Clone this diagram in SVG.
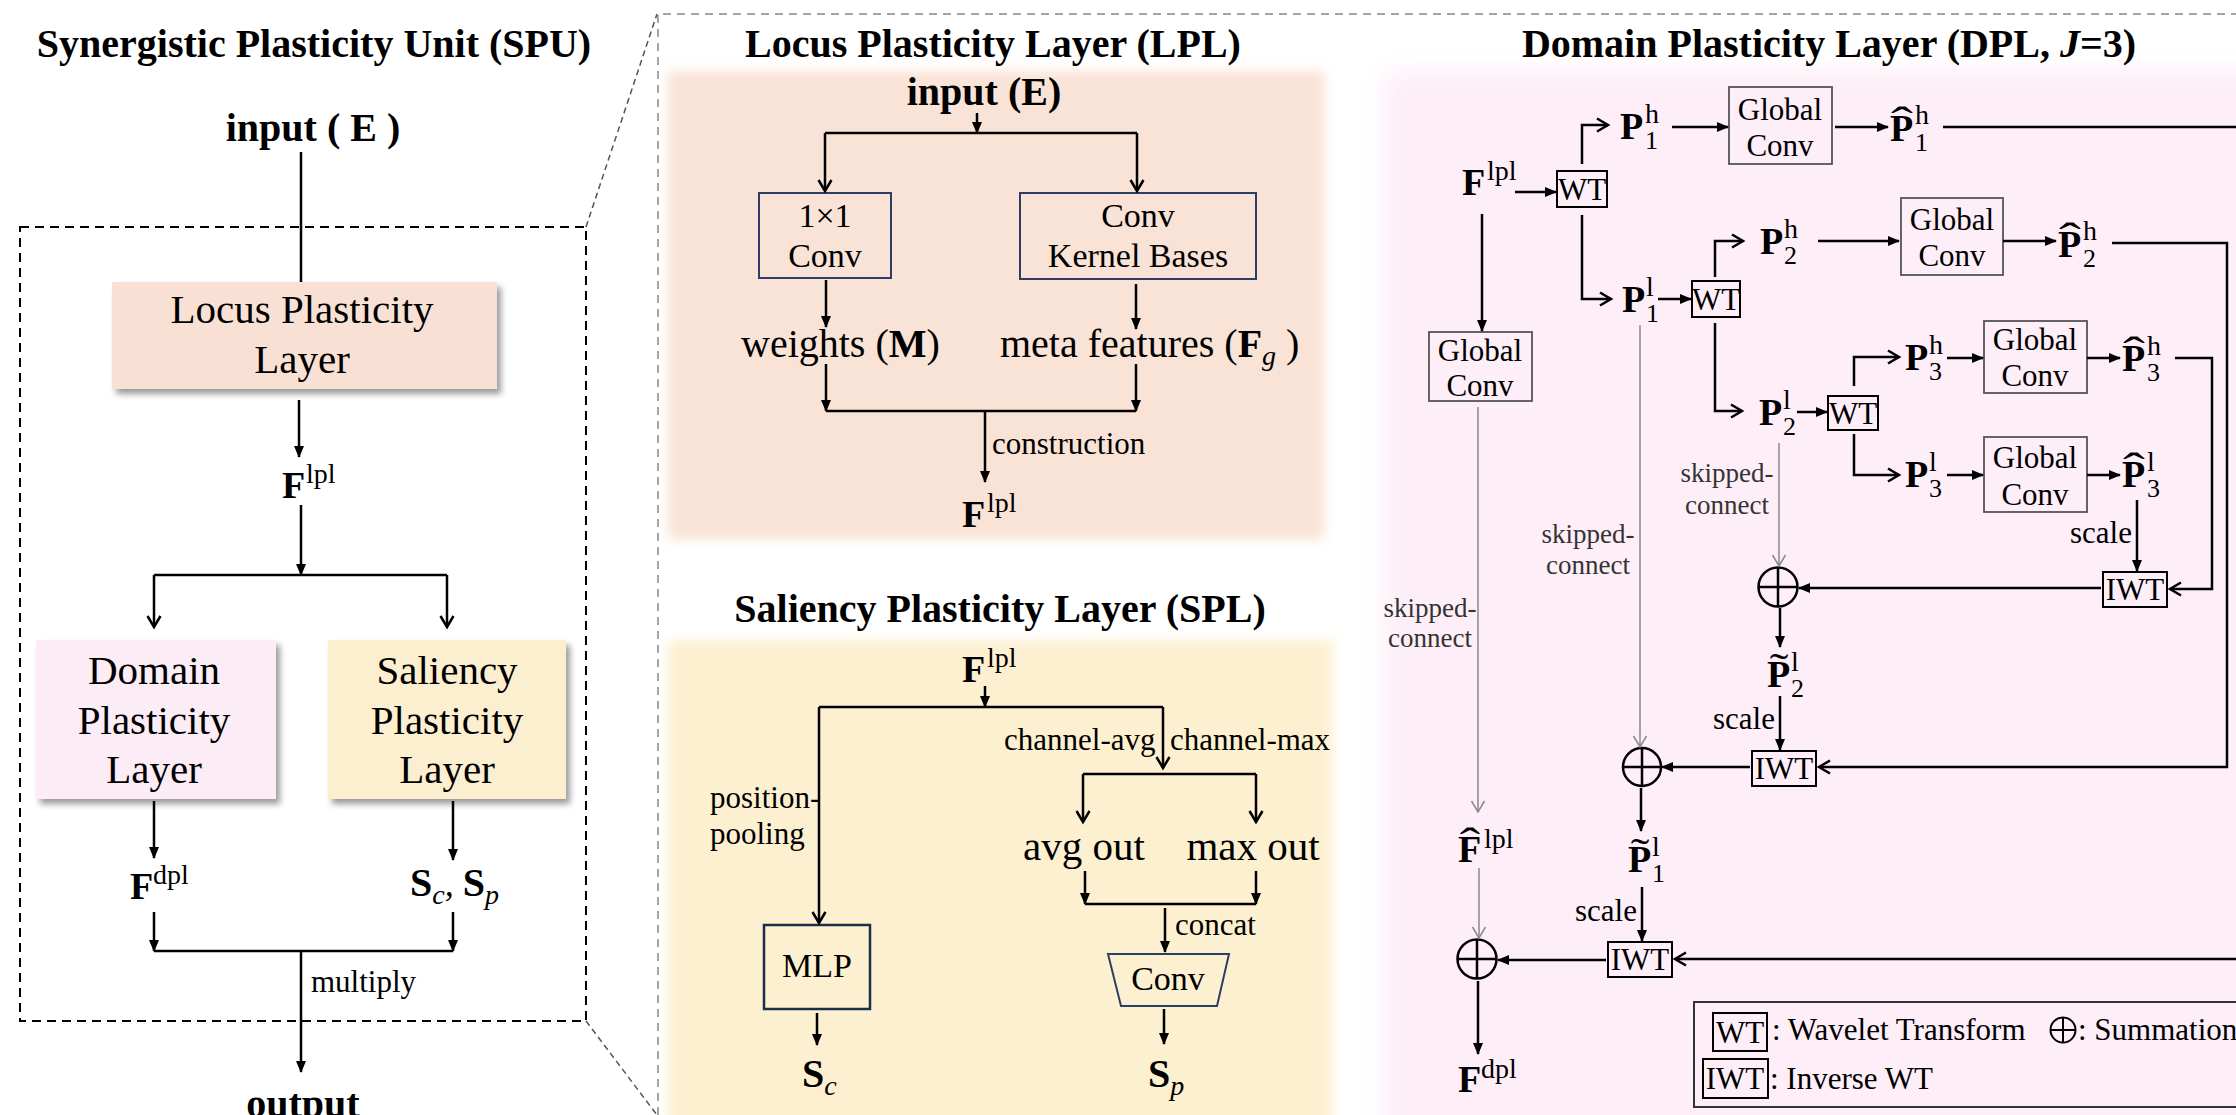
<svg xmlns="http://www.w3.org/2000/svg" width="2236" height="1115" viewBox="0 0 2236 1115">
<defs>
<style>
text{font-family:"Liberation Serif","Times New Roman",serif;fill:#000}
.t{font-size:40px;font-weight:bold}
.b{font-weight:bold}
.lbl{font-size:31px}
.sk{font-size:27px;fill:#333}
.bx{font-size:41px}
.bs{font-size:34px}
.gt{font-size:31px}
.ln{fill:none;stroke:#000;stroke-width:2.5}
.gl{fill:none;stroke:#8a8a8a;stroke-width:1.5}
.af{marker-end:url(#af)}
.ao{marker-end:url(#ao)}
.ag{marker-end:url(#ag)}
.gc{fill:none;stroke:#555;stroke-width:1.8}
.wt{fill:none;stroke:#000;stroke-width:2}
.bb{fill:none;stroke:#2e3d63;stroke-width:2}
.P{font-size:38px;font-weight:bold}
.sup{font-size:28px}
.sub{font-size:26px}
.hat{font-size:44px;text-anchor:middle}
.til{font-size:40px;text-anchor:middle}
.mid{text-anchor:middle}
.end{text-anchor:end}
.it{font-style:italic}
.circ{fill:none;stroke:#000;stroke-width:2.5}
</style>
<marker id="af" markerUnits="userSpaceOnUse" markerWidth="12" markerHeight="10" refX="11" refY="5" orient="auto"><path d="M0,0 L12,5 L0,10 z" fill="#000"/></marker>
<marker id="ao" markerUnits="userSpaceOnUse" markerWidth="16" markerHeight="16" refX="13" refY="8" orient="auto"><path d="M2,1.5 L13,8 L2,14.5" fill="none" stroke="#000" stroke-width="2.5"/></marker>
<marker id="ag" markerUnits="userSpaceOnUse" markerWidth="16" markerHeight="16" refX="13" refY="8" orient="auto"><path d="M2,1.5 L13,8 L2,14.5" fill="none" stroke="#8a8a8a" stroke-width="1.5"/></marker>
<filter id="sh" x="-10%" y="-10%" width="130%" height="130%"><feGaussianBlur in="SourceAlpha" stdDeviation="3"/><feOffset dx="4" dy="5"/><feComponentTransfer><feFuncA type="linear" slope="0.4"/></feComponentTransfer><feMerge><feMergeNode/><feMergeNode in="SourceGraphic"/></feMerge></filter>
<filter id="soft" x="-5%" y="-5%" width="110%" height="110%"><feGaussianBlur stdDeviation="6"/></filter>
<filter id="soft2" x="-5%" y="-5%" width="110%" height="110%"><feGaussianBlur stdDeviation="12"/></filter>
</defs>
<rect x="0" y="0" width="2236" height="1115" fill="#fff"/>

<!-- backgrounds -->
<g id="backgrounds">
<rect x="668" y="71" width="656" height="468" fill="#f9e3d6" filter="url(#soft)"/>
<rect x="668" y="640" width="665" height="500" fill="#fdf0d0" filter="url(#soft)"/>
<rect x="1385" y="71" width="900" height="1100" fill="#fdeef8" filter="url(#soft2)"/>
</g>

<!-- frames -->
<g id="frames">
<rect x="20" y="227" width="566" height="794" fill="none" stroke="#000" stroke-width="2" stroke-dasharray="9 6"/>
<path d="M586,227 L657,14 M586,1021 L657,1115" fill="none" stroke="#555" stroke-width="1.5" stroke-dasharray="6 4"/>
<path d="M658,1115 L658,14 L2236,14" fill="none" stroke="#888" stroke-width="1.5" stroke-dasharray="8 6"/>
</g>

<!-- titles -->
<g id="titles">
<text class="t mid" x="314" y="57">Synergistic Plasticity Unit (SPU)</text>
<text class="t mid" x="993" y="57">Locus Plasticity Layer (LPL)</text>
<text class="t mid" x="1000" y="622">Saliency Plasticity Layer (SPL)</text>
<text class="t mid" x="1829" y="57">Domain Plasticity Layer (DPL, <tspan class="it">J</tspan>=3)</text>
</g>

<!-- SPU nodes -->
<g id="spu-input"><text class="t mid" x="313" y="141">input ( E )</text></g>
<g id="spu-lpl">
<rect x="112" y="282" width="385" height="107" fill="#f8e1d4" filter="url(#sh)"/>
<text class="bx mid" x="302" y="323">Locus Plasticity</text>
<text class="bx mid" x="302" y="373">Layer</text>
</g>
<g id="spu-flpl"><text class="P" x="282" y="498" font-size="40">F</text><text class="sup" x="306" y="483" font-size="30">lpl</text></g>
<g id="spu-dpl">
<rect x="36" y="640" width="240" height="159" fill="#fbecf6" filter="url(#sh)"/>
<text class="bx mid" x="154" y="684">Domain</text>
<text class="bx mid" x="154" y="734">Plasticity</text>
<text class="bx mid" x="154" y="783">Layer</text>
</g>
<g id="spu-spl">
<rect x="328" y="640" width="238" height="159" fill="#fcefcf" filter="url(#sh)"/>
<text class="bx mid" x="447" y="684">Saliency</text>
<text class="bx mid" x="447" y="734">Plasticity</text>
<text class="bx mid" x="447" y="783">Layer</text>
</g>
<g id="spu-fdpl"><text class="P" x="130" y="899" font-size="40">F</text><text class="sup" x="153" y="884" font-size="30">dpl</text></g>
<g id="spu-s"><text x="410" y="896"><tspan class="b" font-size="40">S</tspan><tspan class="it" font-size="28" dy="8">c</tspan><tspan class="it" font-size="36" dy="-8">, </tspan><tspan class="b" font-size="40">S</tspan><tspan class="it" font-size="28" dy="8">p</tspan></text></g>
<g id="spu-multiply"><text class="lbl" x="311" y="992">multiply</text></g>
<g id="spu-output"><text class="t mid" x="303" y="1117">output</text></g>

<!-- LPL nodes -->
<g id="lpl-input"><text class="t mid" x="984" y="105">input (E)</text></g>
<g id="lpl-conv1">
<rect x="759" y="193" width="132" height="85" class="bb"/>
<text class="bs mid" x="825" y="227">1×1</text>
<text class="bs mid" x="825" y="267">Conv</text>
</g>
<g id="lpl-kernel">
<rect x="1020" y="193" width="236" height="86" class="bb"/>
<text class="bs mid" x="1138" y="227">Conv</text>
<text class="bs mid" x="1138" y="267">Kernel Bases</text>
</g>
<g id="lpl-weights"><text x="741" y="357" font-size="40">weights (<tspan class="b">M</tspan>)</text></g>
<g id="lpl-meta"><text x="1000" y="357" font-size="40">meta features (<tspan class="b">F</tspan><tspan class="it" font-size="28" dy="8">g</tspan><tspan dy="-8"> )</tspan></text></g>
<g id="lpl-construction"><text class="lbl" x="992" y="454">construction</text></g>
<g id="lpl-flpl"><text class="P" x="962" y="527" font-size="40">F</text><text class="sup" x="987" y="512" font-size="30">lpl</text></g>

<!-- SPL nodes -->
<g id="spl-flpl"><text class="P" x="962" y="682" font-size="40">F</text><text class="sup" x="987" y="667" font-size="30">lpl</text></g>
<g id="spl-labels">
<text class="lbl" x="1004" y="750">channel-avg</text>
<text class="lbl" x="1170" y="750">channel-max</text>
<text class="lbl" x="710" y="808">position-</text>
<text class="lbl" x="710" y="844">pooling</text>
<text class="lbl" x="1175" y="935">concat</text>
</g>
<g id="spl-avg"><text class="bx mid" x="1084" y="860">avg out</text></g>
<g id="spl-max"><text class="bx mid" x="1253" y="860">max out</text></g>
<g id="spl-mlp">
<rect x="764" y="925" width="106" height="84" fill="none" stroke="#1f2d4d" stroke-width="2.5"/>
<text class="bs mid" x="817" y="977">MLP</text>
</g>
<g id="spl-conv">
<path d="M1108,954 L1229,954 L1217,1006 L1121,1006 z" fill="none" stroke="#2e3d63" stroke-width="2"/>
<text class="bs mid" x="1168" y="990">Conv</text>
</g>
<g id="spl-sc"><text x="802" y="1087"><tspan class="b" font-size="40">S</tspan><tspan class="it" font-size="28" dy="8">c</tspan></text></g>
<g id="spl-sp"><text x="1148" y="1087"><tspan class="b" font-size="40">S</tspan><tspan class="it" font-size="28" dy="8">p</tspan></text></g>

<!-- DPL nodes -->
<g id="dpl-flpl"><text class="P" x="1462" y="195">F</text><text class="sup" x="1487" y="180">lpl</text></g>
<g id="dpl-wt1"><rect x="1557" y="171" width="50" height="36" class="wt"/><text class="gt mid" x="1582" y="200">WT</text></g>
<g id="dpl-p1h"><text class="P" x="1620" y="139">P</text><text class="sup" x="1645" y="123">h</text><text class="sub" x="1645" y="149">1</text></g>
<g id="dpl-gc1"><rect x="1729" y="87" width="103" height="77" class="gc"/><text class="gt mid" x="1780" y="120">Global</text><text class="gt mid" x="1780" y="156">Conv</text></g>
<g id="dpl-ph1h"><text class="P" x="1890" y="141">P</text><text class="hat" transform="translate(1902,137) scale(1.5,1)">ˆ</text><text class="sup" x="1915" y="124">h</text><text class="sub" x="1915" y="151">1</text></g>
<g id="dpl-p1l"><text class="P" x="1622" y="312">P</text><text class="sup" x="1646" y="296">l</text><text class="sub" x="1646" y="322">1</text></g>
<g id="dpl-wt2"><rect x="1692" y="281" width="48" height="36" class="wt"/><text class="gt mid" x="1716" y="310">WT</text></g>
<g id="dpl-p2h"><text class="P" x="1760" y="254">P</text><text class="sup" x="1784" y="238">h</text><text class="sub" x="1784" y="264">2</text></g>
<g id="dpl-gc2"><rect x="1901" y="198" width="102" height="77" class="gc"/><text class="gt mid" x="1952" y="230">Global</text><text class="gt mid" x="1952" y="266">Conv</text></g>
<g id="dpl-ph2h"><text class="P" x="2058" y="257">P</text><text class="hat" transform="translate(2070,253) scale(1.5,1)">ˆ</text><text class="sup" x="2083" y="240">h</text><text class="sub" x="2083" y="267">2</text></g>
<g id="dpl-p2l"><text class="P" x="1759" y="425">P</text><text class="sup" x="1783" y="409">l</text><text class="sub" x="1783" y="435">2</text></g>
<g id="dpl-wt3"><rect x="1828" y="396" width="50" height="34" class="wt"/><text class="gt mid" x="1853" y="424">WT</text></g>
<g id="dpl-p3h"><text class="P" x="1905" y="370">P</text><text class="sup" x="1929" y="354">h</text><text class="sub" x="1929" y="380">3</text></g>
<g id="dpl-gc3"><rect x="1984" y="321" width="103" height="72" class="gc"/><text class="gt mid" x="2035" y="350">Global</text><text class="gt mid" x="2035" y="386">Conv</text></g>
<g id="dpl-ph3h"><text class="P" x="2122" y="371">P</text><text class="hat" transform="translate(2134,367) scale(1.5,1)">ˆ</text><text class="sup" x="2147" y="355">h</text><text class="sub" x="2147" y="381">3</text></g>
<g id="dpl-p3l"><text class="P" x="1905" y="487">P</text><text class="sup" x="1929" y="471">l</text><text class="sub" x="1929" y="497">3</text></g>
<g id="dpl-gc4"><rect x="1984" y="437" width="103" height="75" class="gc"/><text class="gt mid" x="2035" y="468">Global</text><text class="gt mid" x="2035" y="505">Conv</text></g>
<g id="dpl-ph3l"><text class="P" x="2122" y="487">P</text><text class="hat" transform="translate(2134,483) scale(1.5,1)">ˆ</text><text class="sup" x="2147" y="471">l</text><text class="sub" x="2147" y="497">3</text></g>
<g id="dpl-iwt3"><rect x="2103" y="572" width="64" height="35" class="wt"/><text class="gt mid" x="2135" y="600">IWT</text></g>
<g id="dpl-sum1"><circle cx="1778" cy="587" r="19.5" class="circ"/><path d="M1758.5,587 H1797.5 M1778,567.5 V606.5" class="circ"/></g>
<g id="dpl-pt2l"><text class="P" x="1767" y="687">P</text><text class="til" transform="translate(1779,681) scale(1.4,1)">˜</text><text class="sup" x="1791" y="671">l</text><text class="sub" x="1791" y="697">2</text></g>
<g id="dpl-iwt2"><rect x="1752" y="751" width="64" height="35" class="wt"/><text class="gt mid" x="1784" y="779">IWT</text></g>
<g id="dpl-sum2"><circle cx="1642" cy="767" r="19" class="circ"/><path d="M1623,767 H1661 M1642,748 V786" class="circ"/></g>
<g id="dpl-pt1l"><text class="P" x="1628" y="872">P</text><text class="til" transform="translate(1640,866) scale(1.4,1)">˜</text><text class="sup" x="1652" y="856">l</text><text class="sub" x="1652" y="882">1</text></g>
<g id="dpl-iwt1"><rect x="1608" y="942" width="64" height="35" class="wt"/><text class="gt mid" x="1640" y="970">IWT</text></g>
<g id="dpl-gcl"><rect x="1429" y="332" width="103" height="69" class="gc"/><text class="gt mid" x="1480" y="361">Global</text><text class="gt mid" x="1480" y="396">Conv</text></g>
<g id="dpl-fhat"><text class="P" x="1458" y="862">F</text><text class="hat" transform="translate(1470,858) scale(1.4,1)">ˆ</text><text class="sup" x="1484" y="848">lpl</text></g>
<g id="dpl-sum3"><circle cx="1477" cy="959" r="19.5" class="circ"/><path d="M1457.5,959 H1496.5 M1477,939.5 V978.5" class="circ"/></g>
<g id="dpl-fdpl"><text class="P" x="1458" y="1092">F</text><text class="sup" x="1481" y="1078">dpl</text></g>
<g id="dpl-labels">
<text class="sk mid" x="1727" y="482">skipped-</text>
<text class="sk mid" x="1727" y="514">connect</text>
<text class="sk mid" x="1588" y="543">skipped-</text>
<text class="sk mid" x="1588" y="574">connect</text>
<text class="sk mid" x="1430" y="617">skipped-</text>
<text class="sk mid" x="1430" y="647">connect</text>
<text class="lbl end" x="2132" y="543">scale</text>
<text class="lbl end" x="1775" y="729">scale</text>
<text class="lbl end" x="1637" y="921">scale</text>
</g>
<g id="legend">
<rect x="1694" y="1002" width="560" height="105" fill="none" stroke="#333" stroke-width="2"/>
<rect x="1713" y="1013" width="54" height="38" class="wt"/><text class="gt mid" x="1740" y="1043">WT</text>
<text class="gt" x="1772" y="1040">: Wavelet Transform</text>
<circle cx="2063" cy="1030" r="12.5" fill="none" stroke="#000" stroke-width="2"/><path d="M2050.5,1030 H2075.5 M2063,1017.5 V1042.5" fill="none" stroke="#000" stroke-width="2"/>
<text class="gt" x="2078" y="1040">: Summation</text>
<rect x="1703" y="1059" width="65" height="39" class="wt"/><text class="gt mid" x="1735" y="1089">IWT</text>
<text class="gt" x="1770" y="1089">: Inverse WT</text>
</g>

<!-- connectors -->
<g id="connectors">
<!-- SPU -->
<path class="ln" d="M301,152 V282"/>
<path class="ln af" d="M299,400 V457"/>
<path class="ln af" d="M301,505 V575"/>
<path class="ln" d="M154,575 H447"/>
<path class="ln ao" d="M154,575 V627"/>
<path class="ln ao" d="M447,575 V627"/>
<path class="ln af" d="M154,801 V858"/>
<path class="ln af" d="M453,801 V860"/>
<path class="ln af" d="M154,912 V951"/>
<path class="ln af" d="M453,912 V951"/>
<path class="ln" d="M154,951 H453"/>
<path class="ln af" d="M301,951 V1072"/>
<!-- LPL -->
<path class="ln af" d="M977,113 V133"/>
<path class="ln" d="M825,133 H1137"/>
<path class="ln ao" d="M825,133 V191"/>
<path class="ln ao" d="M1137,133 V191"/>
<path class="ln af" d="M826,280 V327"/>
<path class="ln af" d="M1136,284 V329"/>
<path class="ln af" d="M826,364 V411"/>
<path class="ln af" d="M1136,364 V411"/>
<path class="ln" d="M826,411 H1136"/>
<path class="ln af" d="M985,411 V482"/>
<!-- SPL -->
<path class="ln af" d="M985,686 V707"/>
<path class="ln" d="M819,707 H1163"/>
<path class="ln ao" d="M819,707 V923"/>
<path class="ln ao" d="M1163,707 V768"/>
<path class="ln" d="M1083,774 H1256"/>
<path class="ln ao" d="M1083,774 V822"/>
<path class="ln ao" d="M1256,774 V822"/>
<path class="ln af" d="M1085,871 V904"/>
<path class="ln af" d="M1256,871 V904"/>
<path class="ln" d="M1085,904 H1256"/>
<path class="ln af" d="M1165,908 V952"/>
<path class="ln af" d="M817,1013 V1045"/>
<path class="ln af" d="M1164,1009 V1044"/>
<!-- DPL -->
<path class="ln af" d="M1515,192 H1556"/>
<path class="ln ao" d="M1582,164 V125 H1608"/>
<path class="ln af" d="M1672,127 H1728"/>
<path class="ln af" d="M1835,127 H1888"/>
<path class="ln" d="M1943,127 H2240"/>
<path class="ln ao" d="M1582,215 V299 H1611"/>
<path class="ln af" d="M1658,299 H1691"/>
<path class="ln ao" d="M1715,277 V241 H1743"/>
<path class="ln af" d="M1818,241 H1899"/>
<path class="ln af" d="M2003,241 H2056"/>
<path class="ln ao" d="M2112,243 H2227 V767 H1819"/>
<path class="ln ao" d="M1715,323 V411 H1742"/>
<path class="ln af" d="M1797,412 H1827"/>
<path class="ln ao" d="M1854,386 V357 H1899"/>
<path class="ln af" d="M1947,358 H1983"/>
<path class="ln af" d="M2087,358 H2120"/>
<path class="ln ao" d="M2175,358 H2212 V589 H2170"/>
<path class="ln ao" d="M1854,434 V475 H1899"/>
<path class="ln af" d="M1947,475 H1983"/>
<path class="ln af" d="M2087,475 H2120"/>
<path class="ln af" d="M2137,500 V571"/>
<path class="ln af" d="M2101,588 H1799"/>
<path class="gl ag" d="M1779,443 V566"/>
<path class="ln af" d="M1780,608 V647"/>
<path class="ln af" d="M1780,696 V750"/>
<path class="ln af" d="M1750,767 H1662"/>
<path class="gl ag" d="M1640,325 V747"/>
<path class="ln af" d="M1641,788 V831"/>
<path class="ln af" d="M1642,887 V941"/>
<path class="ln ao" d="M2240,959 H1675"/>
<path class="ln af" d="M1606,960 H1498"/>
<path class="ln af" d="M1482,214 V331"/>
<path class="gl ag" d="M1478,407 V812"/>
<path class="gl ag" d="M1479,868 V938"/>
<path class="ln af" d="M1478,981 V1054"/>
</g>
</svg>
